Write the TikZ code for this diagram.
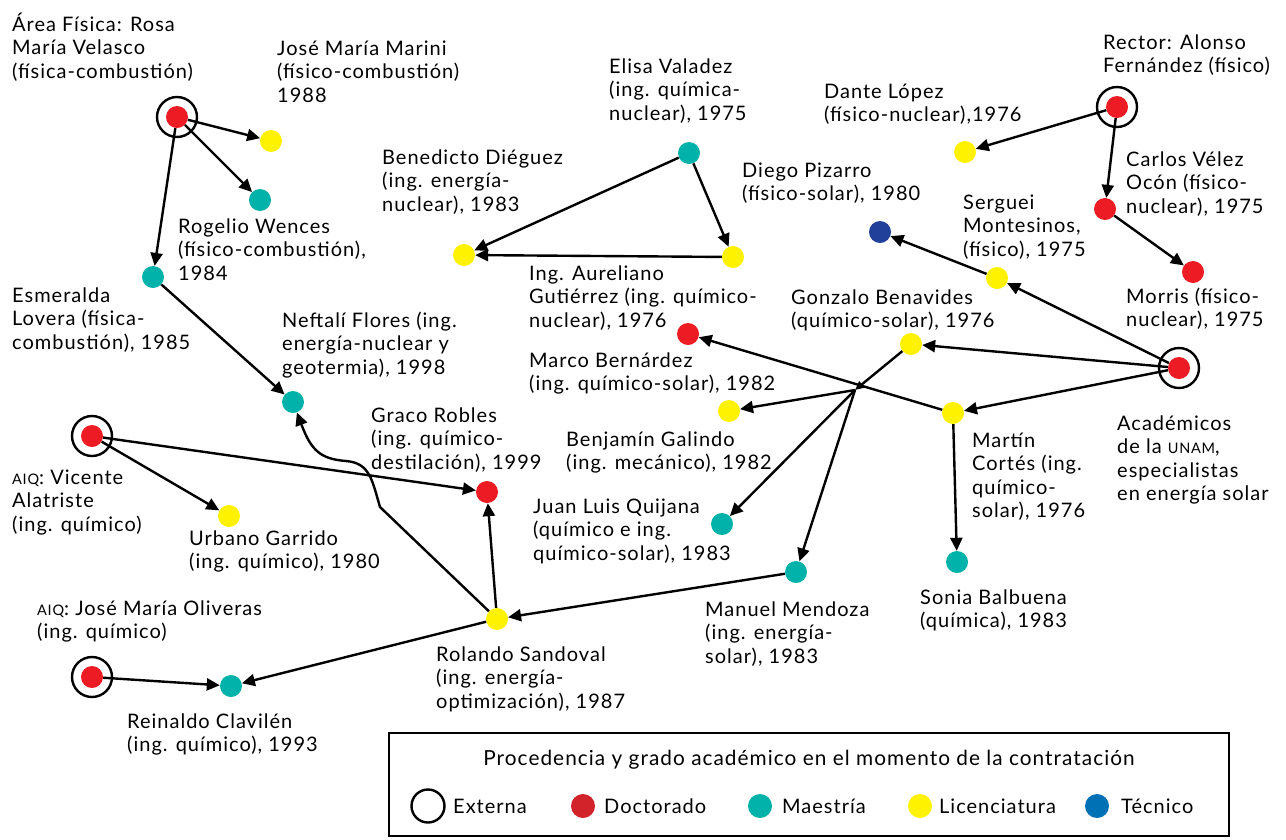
\documentclass[tikz,border=0pt]{standalone}
\usepackage{fontspec}
\setmainfont{Lato}[LetterSpace=5]
\usetikzlibrary{arrows.meta}
\definecolor{cRed}{HTML}{ED1C24}
\definecolor{cTeal}{HTML}{00B2A9}
\definecolor{cYel}{HTML}{FFF200}
\definecolor{cBlue}{HTML}{21409A}
\definecolor{lRed}{HTML}{D2232A}
\definecolor{lBlue}{HTML}{0071B5}
\newcommand{\smc}[1]{{\fontsize{14.5}{14.5}\selectfont #1}}
\tikzset{
  dot/.style={circle, fill=#1, minimum size=22pt, inner sep=0pt},
  ring/.style={circle, draw=black, line width=2.4pt, minimum size=40pt, inner sep=0pt},
  % label whose first baseline sits at the given point; #1 = number of lines
  lbl/.style={anchor=base west, align=left, inner sep=0pt,
    font=\fontsize{20}{23.6}\selectfont, yshift={-(#1-1)*23.6pt}},
  lbl/.default=1,
  link/.style={line width=2.4pt, -{Triangle[length=13pt,width=12pt]}},
  minitip/.style={line width=2.4pt, -{Triangle[length=9pt,width=8pt]}},
}
\begin{document}
\begin{tikzpicture}[x=1pt,y=-1pt]
\useasboundingbox (0,0) rectangle (1286,839);

% ---- people (dots) ----
\node[dot=cRed] (rosa) at (177,117) {};
\node[ring] (rosaR) at (177,117) {};
\node[dot=cYel] (marini) at (271,141) {};
\node[dot=cTeal] (rogelio) at (260,200) {};
\node[dot=cTeal] (esmeralda) at (153,277) {};
\node[dot=cTeal] (neftali) at (293,402) {};
\node[dot=cRed] (graco) at (487,492) {};
\node[dot=cRed] (vicente) at (92,436) {};
\node[ring] (vicenteR) at (92,436) {};
\node[dot=cYel] (urbano) at (229,516) {};
\node[dot=cYel] (rolando) at (497,619) {};
\node[dot=cRed] (oliveras) at (92,677) {};
\node[ring] (oliverasR) at (92,677) {};
\node[dot=cTeal] (reinaldo) at (231,686) {};
\node[dot=cTeal] (elisa) at (689,153) {};
\node[dot=cYel] (benedicto) at (464,255) {};
\node[dot=cYel] (aureliano) at (733,257) {};
\node[dot=cRed] (rector) at (1117,107) {};
\node[ring] (rectorR) at (1117,107) {};
\node[dot=cYel] (dante) at (965,152) {};
\node[dot=cRed] (carlos) at (1105,209) {};
\node[dot=cRed] (morris) at (1193,272) {};
\node[dot=cBlue] (diego) at (880,232) {};
\node[dot=cYel] (serguei) at (997,278) {};
\node[dot=cYel] (gonzalo) at (911,344) {};
\node[dot=cRed] (marco) at (688,334) {};
\node[dot=cRed] (academicos) at (1179,368) {};
\node[ring] (academicosR) at (1179,368) {};
\node[dot=cYel] (benjamin) at (729,411) {};
\node[dot=cYel] (martin) at (953,413) {};
\node[dot=cTeal] (juan) at (722,524) {};
\node[dot=cTeal] (sonia) at (957,562) {};
\node[dot=cTeal] (manuel) at (796,572) {};
\coordinate (hub) at (855,390);

% ---- labels ----
\node[lbl=3] (tRosa) at (12,31) {Área Física: Rosa\\María Velasco\\(física-combustión)};
\node[lbl=3] (tMarini) at (277,55) {José María Marini\\(físico-combustión)\\1988};
\node[lbl=3] (tRogelio) at (178,233) {Rogelio Wences\\(físico-combustión),\\1984};
\node[lbl=3] (tEsmeralda) at (12,302) {Esmeralda\\Lovera (física-\\combustión), 1985};
\node[lbl=3] (tNeftali) at (282,327) {Neftalí Flores (ing.\\energía-nuclear y\\geotermia), 1998};
\node[lbl=3] (tGraco) at (371,422) {Graco Robles\\(ing. químico-\\destilación), 1999};
\node[lbl=3] (tVicente) at (12,484) {\smc{AIQ}: Vicente\\Alatriste\\(ing. químico)};
\node[lbl=2] (tUrbano) at (189,545) {Urbano Garrido\\(ing. químico), 1980};
\node[lbl=3] (tElisa) at (609,73) {Elisa Valadez\\(ing. química-\\nuclear), 1975};
\node[lbl=3] (tBenedicto) at (382,164) {Benedicto Diéguez\\(ing. energía-\\nuclear), 1983};
\node[lbl=3] (tAureliano) at (529,280) {Ing. Aureliano\\Gutiérrez (ing. químico-\\nuclear), 1976};
\node[lbl=2] (tDiego) at (742,177) {Diego Pizarro\\(físico-solar), 1980};
\node[lbl=2] (tRector) at (1103,49) {Rector: Alonso\\Fernández (físico)};
\node[lbl=2] (tDante) at (824,98) {Dante López\\(físico-nuclear),1976};
\node[lbl=3] (tCarlos) at (1126,166) {Carlos Vélez\\Ocón (físico-\\nuclear), 1975};
\node[lbl=3] (tSerguei) at (963,209) {Serguei\\Montesinos,\\(físico), 1975};
\node[lbl=2] (tGonzalo) at (791,304) {Gonzalo Benavides\\(químico-solar), 1976};
\node[lbl=2] (tMorris) at (1126,303) {Morris (físico-\\nuclear), 1975};
\node[lbl=2] (tMarco) at (529,367) {Marco Bernárdez\\(ing. químico-solar), 1982};
\node[lbl=2] (tBenjamin) at (566,446) {Benjamín Galindo\\(ing. mecánico), 1982};
\node[lbl=3] (tJuan) at (533,513) {Juan Luis Quijana\\(químico e ing.\\químico-solar), 1983};
\node[lbl=3] (tManuel) at (705,616) {Manuel Mendoza\\(ing. energía-\\solar), 1983};
\node[lbl=2] (tSonia) at (920,604) {Sonia Balbuena\\(química), 1983};
\node[lbl=4] (tMartin) at (972,447) {Martín\\Cortés (ing.\\químico-\\solar), 1976};
\node[lbl=4] (tAcademicos) at (1117,430) {Académicos\\de la \smc{UNAM},\\especialistas\\en energía solar};
\node[lbl=3] (tRolando) at (436,661) {Rolando Sandoval\\(ing. energía-\\optimización), 1987};
\node[lbl=2] (tOliveras) at (37,615) {\smc{AIQ}: José María Oliveras\\(ing. químico)};
\node[lbl=2] (tReinaldo) at (127,728) {Reinaldo Clavilén\\(ing. químico), 1993};

% ---- connectors ----
\draw[link] (rosa) -- (marini);
\draw[link] (rosa) -- (rogelio);
\draw[link] (rosa) -- (esmeralda);
\draw[link] (esmeralda) -- (neftali);
\draw[link] (elisa) -- (benedicto);
\draw[link] (elisa) -- (aureliano);
\draw[link] (aureliano) -- (benedicto);
\draw[link] (rector) -- (dante);
\draw[link] (rector) -- (carlos);
\draw[link] (carlos) -- (morris);
\draw[link] (academicos) -- (serguei);
\draw[link] (serguei) -- (diego);
\draw[link] (academicos) -- (gonzalo);
\draw[link] (academicos) -- (martin);
\draw[link] (martin) -- (marco);
\draw[minitip] (gonzalo) -- (hub);
\draw[link] (hub) -- (benjamin);
\draw[link] (hub) -- (juan);
\draw[link] (hub) -- (manuel);
\draw[link] (martin) -- (sonia);
\draw[link] (manuel) -- (rolando);
\draw[link] (rolando) -- (graco);
\draw[link] (rolando) -- (380,507) .. controls (372,480) and (370,463) .. (346,461)
  .. controls (320,459) and (311,450) .. (neftali);
\draw[link] (vicente) -- (graco);
\draw[link] (vicente) -- (urbano);
\draw[link] (rolando) -- (reinaldo);
\draw[link] (oliveras) -- (reinaldo);

% ---- legend ----
\draw[line width=2.4pt] (389,733) rectangle (1229,836);
\node[font=\fontsize{20.8}{23.6}\selectfont, anchor=base, inner sep=0pt] (legTitle) at (809,765)
  {Procedencia y grado académico en el momento de la contratación};
\node[circle, draw=black, line width=2.4pt, minimum size=33pt, inner sep=0pt] (legExt) at (428,806) {};
\node[lbl] (legExtT) at (453,813) {Externa};
\node[dot=lRed, minimum size=24pt] (legDoc) at (583,806) {};
\node[lbl] (legDocT) at (604,813) {Doctorado};
\node[dot=cTeal, minimum size=24pt] (legMae) at (760,806) {};
\node[lbl] (legMaeT) at (782,813) {Maestría};
\node[dot=cYel, minimum size=24pt] (legLic) at (920,806) {};
\node[lbl] (legLicT) at (939,813) {Licenciatura};
\node[dot=lBlue, minimum size=24pt] (legTec) at (1097,806) {};
\node[lbl] (legTecT) at (1121,813) {Técnico};
\end{tikzpicture}
\end{document}
